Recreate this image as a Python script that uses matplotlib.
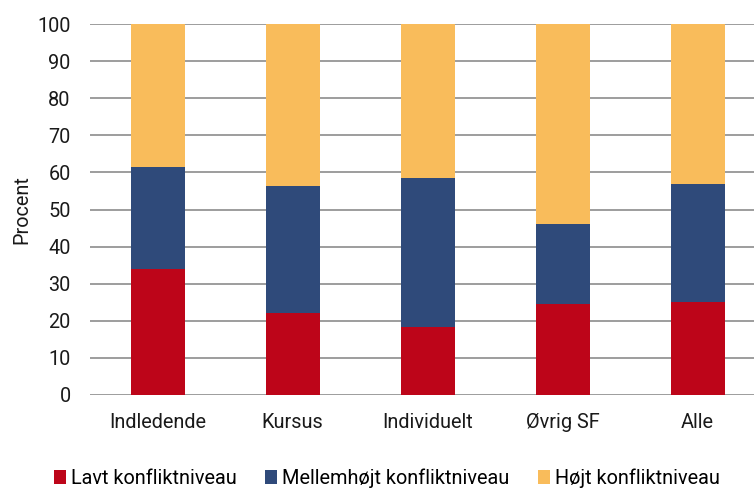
import numpy as np
import matplotlib
matplotlib.use("Agg")
import matplotlib.pyplot as plt

plt.rcParams['font.family'] = ['Roboto', 'DejaVu Sans']

categories = ['Indledende', 'Kursus', 'Individuelt', 'Øvrig SF', 'Alle']
lavt = [34.0, 22.0, 18.4, 24.4, 25.2]
mellem = [27.5, 34.3, 40.2, 21.6, 31.6]
hojt = [100 - a - b for a, b in zip(lavt, mellem)]
series_names = ['Lavt konfliktniveau', 'Mellemhøjt konfliktniveau', 'Højt konfliktniveau']
colors = ['#BD0519', '#2F4A7A', '#F9BC5B']

fig = plt.figure(figsize=(7.54, 4.91), dpi=100)
ax = fig.add_axes([90/754, 96/491, 675/754, 371/491])

x = np.arange(len(categories))
bottom = np.zeros(len(categories))
bars = []
for vals, col, name in zip([lavt, mellem, hojt], colors, series_names):
    b = ax.bar(x, vals, width=0.4, bottom=bottom, color=col, label=name, zorder=3)
    bars.append(b)
    bottom += np.array(vals)

ax.set_xlim(-0.5, 4.5)
ax.set_ylim(0, 100)
ax.set_yticks(range(0, 101, 10))
ax.set_xticks(x)
ax.set_xticklabels(categories)
ax.grid(axis='y', color='#8c8c8c', linewidth=1.2, zorder=0)
for s in ax.spines.values():
    s.set_visible(False)
fs = 14.3
ax.tick_params(length=0, labelsize=fs, colors='#1a1a1a')
ax.tick_params(axis='x', pad=13)
ax.tick_params(axis='y', pad=14)
ax.set_ylabel('Procent', fontsize=fs, color='#1a1a1a', labelpad=4)

fig.legend(handles=bars, labels=series_names, loc='lower left', ncol=3,
           bbox_to_anchor=(46/754, -5/491), frameon=False, fontsize=fs,
           handlelength=0.6, handleheight=0.75, handletextpad=0.25, columnspacing=1.45,
           borderaxespad=0)

fig.savefig('out.png', dpi=100)
